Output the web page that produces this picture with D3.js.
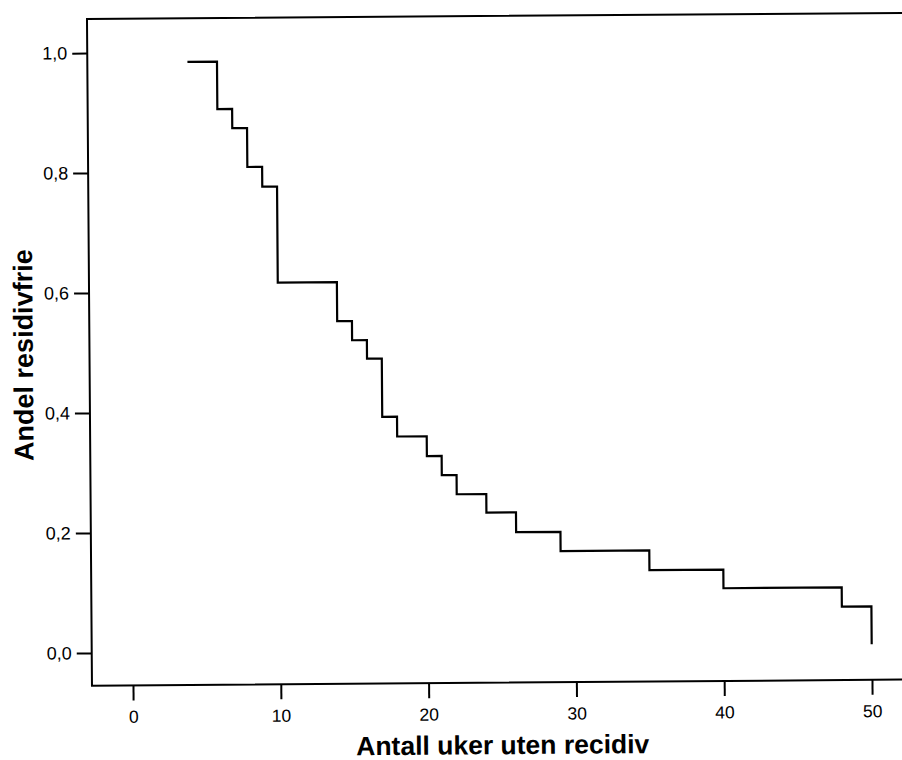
<!DOCTYPE html>
<html>
<head>
<meta charset="utf-8">
<script src="https://cdn.jsdelivr.net/npm/d3@7"></script>
<style>
  html, body { margin: 0; padding: 0; background: #fff; }
  svg { display: block; }
</style>
</head>
<body>
<div id="chart"></div>
<script>
// Kaplan–Meier style step curve: time (weeks) and proportion relapse-free
const weeks     = [4, 6, 7, 8, 9, 10, 14, 15, 16, 17, 18, 20, 21, 22, 24, 26, 29, 35, 40, 48, 50];
const survival  = [0.984, 0.905, 0.873, 0.808, 0.775, 0.615, 0.550, 0.518, 0.487, 0.390, 0.357,
                   0.324, 0.292, 0.260, 0.229, 0.196, 0.164, 0.131, 0.100, 0.068, 0.005];
const xTicks    = [0, 10, 20, 30, 40, 50];
const yTicks    = [0, 0.2, 0.4, 0.6, 0.8, 1.0];
const xTitle    = "Antall uker uten recidiv";
const yTitle    = "Andel residivfrie";

const W = 902, H = 760;
const frame = { left: 89.7, top: 16.3, bottom: 683, right: 920 };

const svg = d3.select("#chart").append("svg")
  .attr("width", W).attr("height", H)
  .style("background", "#fff");

// the scanned original is tilted very slightly
const g = svg.append("g").attr("transform", "rotate(-0.43, 450, 380)");

const x = d3.scaleLinear().domain([0, 50]).range([130.7, 869.7]);
const y = d3.scaleLinear().domain([0, 1]).range([650.3, 50.3]);

const fmt = d => d3.format(".1f")(d).replace(".", ",");

// frame (left, top, bottom lines)
const frameG = g.append("g").attr("stroke", "#000").attr("stroke-width", 2).attr("fill", "none");
frameG.append("path")
  .attr("d", `M${frame.right},${frame.top} H${frame.left} V${frame.bottom} H${frame.right}`)
  .attr("stroke-linejoin", "miter");

// y axis
const yAxis = g.append("g")
  .attr("transform", `translate(${frame.left},0)`)
  .call(d3.axisLeft(y).tickValues(yTicks).tickFormat(fmt).tickSize(15).tickPadding(5));
yAxis.select(".domain").remove();
yAxis.selectAll(".tick line").attr("stroke", "#000").attr("stroke-width", 2);
yAxis.selectAll(".tick text")
  .attr("fill", "#000")
  .style("font-family", "'Liberation Sans', Arial, Helvetica, sans-serif")
  .style("font-size", "18px");

// x axis
const xAxis = g.append("g")
  .attr("transform", `translate(0,${frame.bottom})`)
  .call(d3.axisBottom(x).tickValues(xTicks).tickFormat(d3.format("d")).tickSize(15).tickPadding(10));
xAxis.select(".domain").remove();
xAxis.selectAll(".tick line").attr("stroke", "#000").attr("stroke-width", 2);
xAxis.selectAll(".tick text")
  .attr("fill", "#000")
  .style("font-family", "'Liberation Sans', Arial, Helvetica, sans-serif")
  .style("font-size", "17.5px");

// step curve
const pts = weeks.map((w, i) => [w, survival[i]]);
const line = d3.line()
  .x(d => x(d[0]))
  .y(d => y(d[1]))
  .curve(d3.curveStepAfter);
g.append("path")
  .datum(pts)
  .attr("d", line)
  .attr("fill", "none")
  .attr("stroke", "#000")
  .attr("stroke-width", 2.2);

// axis titles
g.append("text")
  .attr("x", 500).attr("y", 754.5)
  .attr("text-anchor", "middle")
  .style("font-family", "'Liberation Sans', Arial, Helvetica, sans-serif")
  .style("font-weight", "bold")
  .style("font-size", "26.5px")
  .attr("fill", "#000")
  .text(xTitle);

g.append("text")
  .attr("transform", "translate(33,352) rotate(-90)")
  .attr("text-anchor", "middle")
  .style("font-family", "'Liberation Sans', Arial, Helvetica, sans-serif")
  .style("font-weight", "bold")
  .style("font-size", "27px")
  .attr("fill", "#000")
  .text(yTitle);
</script>
</body>
</html>
